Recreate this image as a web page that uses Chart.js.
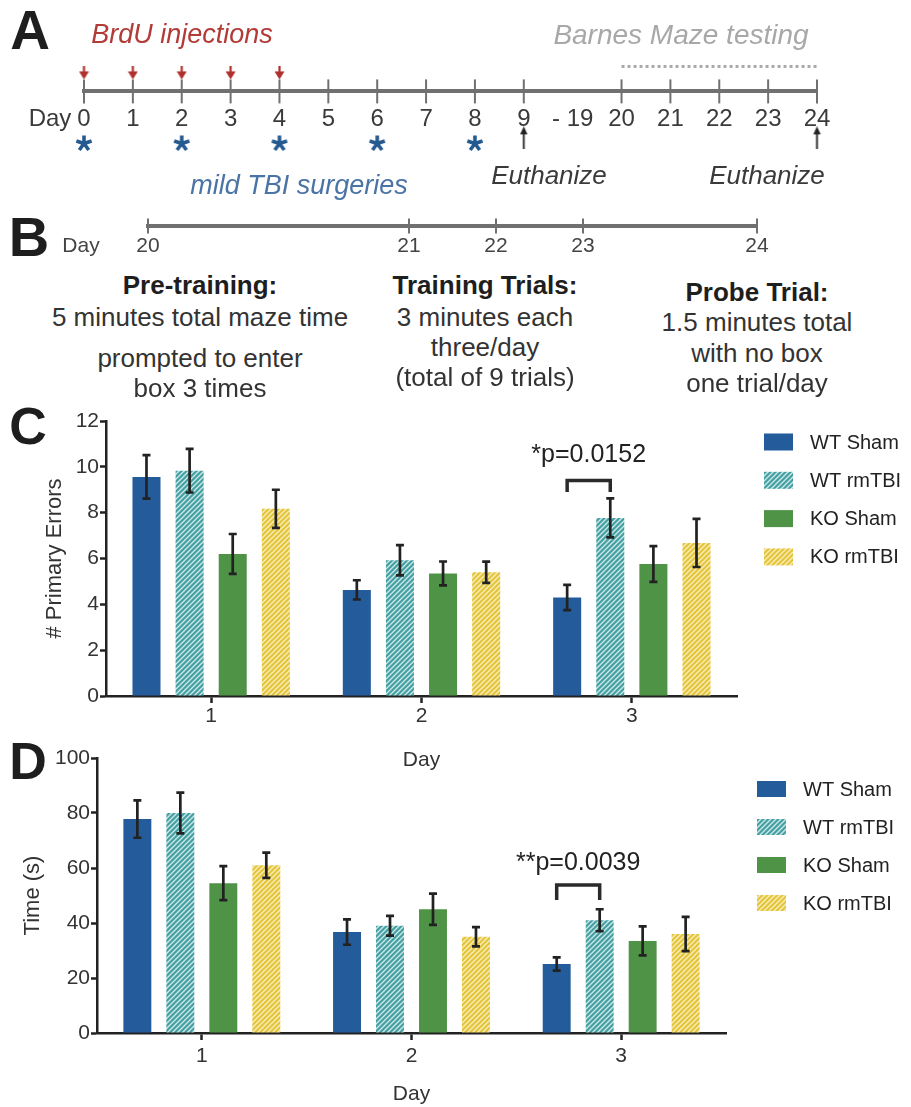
<!DOCTYPE html>
<html>
<head>
<meta charset="utf-8">
<script src="https://cdn.jsdelivr.net/npm/chart.js@4/dist/chart.umd.min.js"></script>
<style>
  body { margin: 0; background: #fff; }
  #fig { position: relative; width: 911px; height: 1107px; overflow: hidden;
         font-family: "Liberation Sans", Arial, sans-serif; color: #222; }
  #fig canvas { position: absolute; left: 0; }
  .t { position: absolute; white-space: nowrap; line-height: 1; transform: translate(-50%, -50%); }
  .panel { font-weight: bold; color: #1e1e1e; }
  .it { font-style: italic; }
  .bt { font-size: 26px; font-weight: bold; color: #1e1e1e; }
  .bb { font-size: 26px; color: #333; }
</style>
</head>
<body>
<div id="fig">
  <canvas id="timeA" width="911" height="200" style="top:0"></canvas>
  <canvas id="timeB" width="911" height="75" style="top:194px"></canvas>
  <canvas id="errors" width="911" height="375" style="top:400px"></canvas>
  <canvas id="time" width="911" height="367" style="top:740px"></canvas>

  <!-- panel A -->
  <div class="t panel" style="left:30px;top:30px;font-size:55px">A</div>
  <div class="t it" style="left:182px;top:34px;font-size:27px;color:#b23b38">BrdU injections</div>
  <div class="t it" style="left:681px;top:35px;font-size:28px;color:#a8a8a8">Barnes Maze testing</div>
  <div class="t" style="left:50px;top:118px;font-size:24px;color:#3a3a3a">Day</div>
  <div class="t it" style="left:299px;top:185px;font-size:27px;color:#4b74a6">mild TBI surgeries</div>
  <div class="t it" style="left:549px;top:175px;font-size:26px;color:#3a3a3a">Euthanize</div>
  <div class="t it" style="left:767px;top:175px;font-size:26px;color:#3a3a3a">Euthanize</div>

  <!-- panel B -->
  <div class="t panel" style="left:29px;top:237px;font-size:56px">B</div>
  <div class="t" style="left:81px;top:244px;font-size:21px;color:#444">Day</div>
  <div class="t bt" style="left:200px;top:285px">Pre-training:</div>
  <div class="t bb" style="left:200px;top:317px">5 minutes total maze time</div>
  <div class="t bb" style="left:200px;top:358px">prompted to enter</div>
  <div class="t bb" style="left:200px;top:388px">box 3 times</div>
  <div class="t bt" style="left:485px;top:285px">Training Trials:</div>
  <div class="t bb" style="left:485px;top:317px">3 minutes each</div>
  <div class="t bb" style="left:485px;top:347px">three/day</div>
  <div class="t bb" style="left:485px;top:377px">(total of 9 trials)</div>
  <div class="t bt" style="left:757px;top:292px">Probe Trial:</div>
  <div class="t bb" style="left:757px;top:322px">1.5 minutes total</div>
  <div class="t bb" style="left:757px;top:353px">with no box</div>
  <div class="t bb" style="left:757px;top:383px">one trial/day</div>

  <!-- panels C and D -->
  <div class="t panel" style="left:28px;top:426px;font-size:52px">C</div>
  <div class="t panel" style="left:28px;top:761px;font-size:52px">D</div>
</div>

<script>
// ---- panel A timeline ----
const aDays = [0, 1, 2, 3, 4, 5, 6, 7, 8, 9, 20, 21, 22, 23, 24];
const aGapLabel = '- 19';
const brduDays = [0, 1, 2, 3, 4];
const tbiDays = [0, 2, 4, 6, 8];
const euthDays = [9, 24];
const mazeDays = [20, 24];

// ---- panel B timeline (blank labels just stretch the schematic) ----
const bLabels = ['20', '', '', '21', '22', '23', '', '24'];
const bDays = [20, 21, 22, 23, 24];

// ---- panels C and D ----
const days = ['1', '2', '3'];
const groups = ['WT Sham', 'WT rmTBI', 'KO Sham', 'KO rmTBI'];

const errWTSham = [9.56, 4.63, 4.30];
const errWTrmTBI = [9.83, 5.92, 7.77];
const errKOSham = [6.20, 5.35, 5.76];
const errKOrmTBI = [8.17, 5.40, 6.68];
const errSemWTSham = [0.95, 0.42, 0.55];
const errSemWTrmTBI = [0.95, 0.66, 0.85];
const errSemKOSham = [0.87, 0.52, 0.78];
const errSemKOrmTBI = [0.83, 0.46, 1.05];

const timeWTSham = [77.8, 36.7, 25.1];
const timeWTrmTBI = [80.0, 39.0, 41.0];
const timeKOSham = [54.5, 45.0, 33.5];
const timeKOrmTBI = [61.0, 35.0, 36.0];
const timeSemWTSham = [6.8, 4.6, 2.4];
const timeSemWTrmTBI = [7.4, 3.6, 4.0];
const timeSemKOSham = [6.2, 5.7, 5.3];
const timeSemKOrmTBI = [4.6, 3.5, 6.2];

const sigErrors = { from: 0, to: 1, day: 2, top: 9.4, leg: 8.9, label: 10.5, text: '*p=0.0152' };
const sigTime = { from: 0, to: 1, day: 2, top: 53.8, leg: 48.4, label: 61.8, text: '**p=0.0039' };

const FONT = '"Liberation Sans", Arial, sans-serif';
Chart.defaults.font.family = FONT;
Chart.defaults.color = '#333';

function hatch(bg, fg) {
  const s = 5, c = document.createElement('canvas');
  c.width = c.height = s;
  const g = c.getContext('2d');
  g.fillStyle = bg; g.fillRect(0, 0, s, s);
  g.strokeStyle = fg; g.lineWidth = 1.3;
  g.beginPath();
  g.moveTo(-1, 1); g.lineTo(1, -1);
  g.moveTo(0, s); g.lineTo(s, 0);
  g.moveTo(s - 1, s + 1); g.lineTo(s + 1, s - 1);
  g.stroke();
  return document.createElement('canvas').getContext('2d').createPattern(c, 'repeat');
}

const colors = ['#245b9b', hatch('#45a0a3', '#cfe9e9'), '#4f9346', hatch('#e4c43a', '#f8efbd')];

// small marker images for the timeline
function marker(w, h, draw) {
  const c = document.createElement('canvas');
  c.width = w; c.height = h;
  draw(c.getContext('2d'));
  return c;
}
const downArrow = marker(11, 13, g => {
  g.fillStyle = g.strokeStyle = '#b0302c'; g.lineWidth = 2.2;
  g.beginPath(); g.moveTo(5.5, 0); g.lineTo(5.5, 6); g.stroke();
  g.beginPath(); g.moveTo(0.5, 5); g.lineTo(10.5, 5); g.lineTo(5.5, 13); g.closePath(); g.fill();
});
const upArrow = marker(9, 23, g => {
  g.fillStyle = g.strokeStyle = '#222'; g.lineWidth = 1.8;
  g.beginPath(); g.moveTo(4.5, 6); g.lineTo(4.5, 23); g.stroke();
  g.beginPath(); g.moveTo(4.5, 0); g.lineTo(0.8, 8); g.lineTo(8.2, 8); g.closePath(); g.fill();
});
const asterisk = marker(18, 18, g => {
  g.strokeStyle = '#245a8f'; g.lineWidth = 3.6;
  g.beginPath();
  for (let k = 0; k < 5; k++) {
    const a = -Math.PI / 2 + k * 2 * Math.PI / 5;
    g.moveTo(9, 9.5); g.lineTo(9 + Math.cos(a) * 8, 9.5 + Math.sin(a) * 8);
  }
  g.stroke();
});

const aLabels = [...aDays.slice(0, 10).map(String), aGapLabel, ...aDays.slice(10).map(String)];
const pts = (list, y) => list.map(d => ({ x: String(d), y }));

new Chart(document.getElementById('timeA'), {
  type: 'line',
  data: {
    labels: aLabels,
    datasets: [
      { data: pts(aDays, 0), showLine: false, pointStyle: 'line', rotation: 90, pointRadius: 12,
        pointBorderColor: '#707070', pointBorderWidth: 2, clip: false },
      { data: pts(brduDays, 0.86), showLine: false, pointStyle: downArrow, pointRadius: 6, clip: false },
      { data: pts(tbiDays, -2.4), showLine: false, pointStyle: asterisk, pointRadius: 6, clip: false },
      { data: pts(euthDays, -2.16), showLine: false, pointStyle: upArrow, pointRadius: 6, clip: false },
      { data: pts(mazeDays, 1.16), borderColor: '#a9a9a9', borderWidth: 3, borderDash: [3, 3],
        pointRadius: 0, clip: false }
    ]
  },
  options: {
    responsive: false, animation: false, events: [],
    layout: { padding: { left: 84, right: 94, top: 0, bottom: 0 } },
    plugins: { legend: { display: false }, tooltip: { enabled: false } },
    scales: {
      x: { type: 'category', position: { y: 0 },
           grid: { display: false },
           border: { color: '#707070', width: 4 },
           ticks: { autoSkip: false, maxRotation: 0, padding: 6, color: '#3a3a3a', font: { size: 24 } } },
      y: { display: false, min: -4.4, max: 3.6 }
    }
  }
});

new Chart(document.getElementById('timeB'), {
  type: 'line',
  data: {
    labels: bLabels,
    datasets: [
      { data: pts(bDays, 0), showLine: false, pointStyle: 'line', rotation: 90, pointRadius: 7.5,
        pointBorderColor: '#707070', pointBorderWidth: 2, clip: false }
    ]
  },
  options: {
    responsive: false, animation: false, events: [],
    layout: { padding: { left: 148, right: 154, top: 0, bottom: 0 } },
    plugins: { legend: { display: false }, tooltip: { enabled: false } },
    scales: {
      x: { type: 'category', position: { y: 0 },
           grid: { display: false },
           border: { color: '#707070', width: 4 },
           ticks: { autoSkip: false, maxRotation: 0, padding: 0, color: '#444', font: { size: 21 } } },
      y: { display: false, min: -1.5, max: 1 }
    }
  }
});

// error bars (mean +/- SEM)
const errBars = {
  id: 'errBars',
  afterDatasetsDraw(chart) {
    const { ctx } = chart, y = chart.scales.y;
    ctx.save();
    ctx.strokeStyle = '#222'; ctx.lineWidth = 2.7;
    chart.data.datasets.forEach((ds, i) => {
      chart.getDatasetMeta(i).data.forEach((bar, j) => {
        const hi = y.getPixelForValue(ds.data[j] + ds.sem[j]);
        const lo = y.getPixelForValue(ds.data[j] - ds.sem[j]);
        ctx.beginPath();
        ctx.moveTo(bar.x, hi); ctx.lineTo(bar.x, lo);
        ctx.moveTo(bar.x - 4, hi); ctx.lineTo(bar.x + 4, hi);
        ctx.moveTo(bar.x - 4, lo); ctx.lineTo(bar.x + 4, lo);
        ctx.stroke();
      });
    });
    ctx.restore();
  }
};

// significance bracket + p value
const sigBracket = {
  id: 'sig',
  afterDatasetsDraw(chart, args, s) {
    const { ctx } = chart, y = chart.scales.y;
    const x1 = chart.getDatasetMeta(s.from).data[s.day].x;
    const x2 = chart.getDatasetMeta(s.to).data[s.day].x;
    const top = y.getPixelForValue(s.top), leg = y.getPixelForValue(s.leg);
    ctx.save();
    ctx.strokeStyle = '#2a2a2a'; ctx.lineWidth = 3.5;
    ctx.beginPath();
    ctx.moveTo(x1, leg); ctx.lineTo(x1, top); ctx.lineTo(x2, top); ctx.lineTo(x2, leg);
    ctx.stroke();
    ctx.font = '25px ' + FONT;
    ctx.fillStyle = '#222'; ctx.textAlign = 'center'; ctx.textBaseline = 'middle';
    ctx.fillText(s.text, (x1 + x2) / 2, y.getPixelForValue(s.label));
    ctx.restore();
  }
};

// legend to the right of the plot
const sideLegend = {
  id: 'sideLegend',
  afterDraw(chart, args, o) {
    const { ctx, chartArea } = chart;
    ctx.save();
    ctx.font = '20px ' + FONT;
    ctx.textBaseline = 'middle';
    chart.data.datasets.forEach((ds, i) => {
      const x = chartArea.right + o.dx, y = chartArea.top + o.dy + i * o.gap;
      ctx.fillStyle = ds.backgroundColor;
      ctx.fillRect(x, y - o.bh / 2, 29, o.bh);
      ctx.fillStyle = '#222';
      ctx.fillText(ds.label, x + 46, y + 1);
    });
    ctx.restore();
  }
};

function barChart(id, means, sems, o) {
  return new Chart(document.getElementById(id), {
    type: 'bar',
    data: {
      labels: days,
      datasets: groups.map((g, i) => ({
        label: g, data: means[i], sem: sems[i], backgroundColor: colors[i], borderWidth: 0
      }))
    },
    options: {
      responsive: false, animation: false, events: [],
      layout: { padding: { top: o.top, right: o.right, left: 0, bottom: 0 } },
      datasets: { bar: { categoryPercentage: 0.82, barPercentage: 0.65 } },
      plugins: {
        legend: { display: false }, tooltip: { enabled: false },
        sideLegend: o.legend, sig: o.sig
      },
      scales: {
        x: {
          z: 1,
          afterFit: s => { s.height = o.xh; },
          grid: { drawOnChartArea: false, offset: false, tickLength: 7, tickWidth: 2.5, tickColor: '#222' },
          border: { color: '#222', width: 2.5 },
          ticks: { padding: o.xpad, color: '#333', font: { size: 21 } },
          title: { display: true, text: 'Day', color: '#333', font: { size: 21 },
                   padding: { top: 0, bottom: o.xtp } }
        },
        y: {
          z: 1,
          min: 0, max: o.max,
          afterFit: s => { s.width = o.yw; },
          grid: { drawOnChartArea: false, tickLength: 6, tickWidth: 2.5, tickColor: '#222' },
          border: { color: '#222', width: 2.5 },
          ticks: { stepSize: o.step, padding: o.ypad, color: '#333', font: { size: 21 } },
          title: { display: true, text: o.ytitle, color: '#333', font: { size: 22 },
                   padding: { top: o.ytp, bottom: 0 } }
        }
      }
    },
    plugins: [errBars, sigBracket, sideLegend]
  });
}

barChart('errors',
  [errWTSham, errWTrmTBI, errKOSham, errKOrmTBI],
  [errSemWTSham, errSemWTrmTBI, errSemKOSham, errSemKOrmTBI],
  { top: 21, right: 174, xh: 79, yw: 106, max: 12, step: 2, xpad: 1, ypad: 1, xtp: 2, ytp: 42,
    ytitle: '# Primary Errors', sig: sigErrors, legend: { dx: 27, dy: 21, gap: 38.3, bh: 17 } });

barChart('time',
  [timeWTSham, timeWTrmTBI, timeKOSham, timeKOrmTBI],
  [timeSemWTSham, timeSemWTrmTBI, timeSemKOSham, timeSemKOrmTBI],
  { top: 18, right: 185, xh: 74, yw: 97, max: 100, step: 20, xpad: 4, ypad: 1, xtp: 0, ytp: 20,
    ytitle: 'Time (s)', sig: sigTime, legend: { dx: 31, dy: 31, gap: 38, bh: 16 } });
</script>
</body>
</html>
